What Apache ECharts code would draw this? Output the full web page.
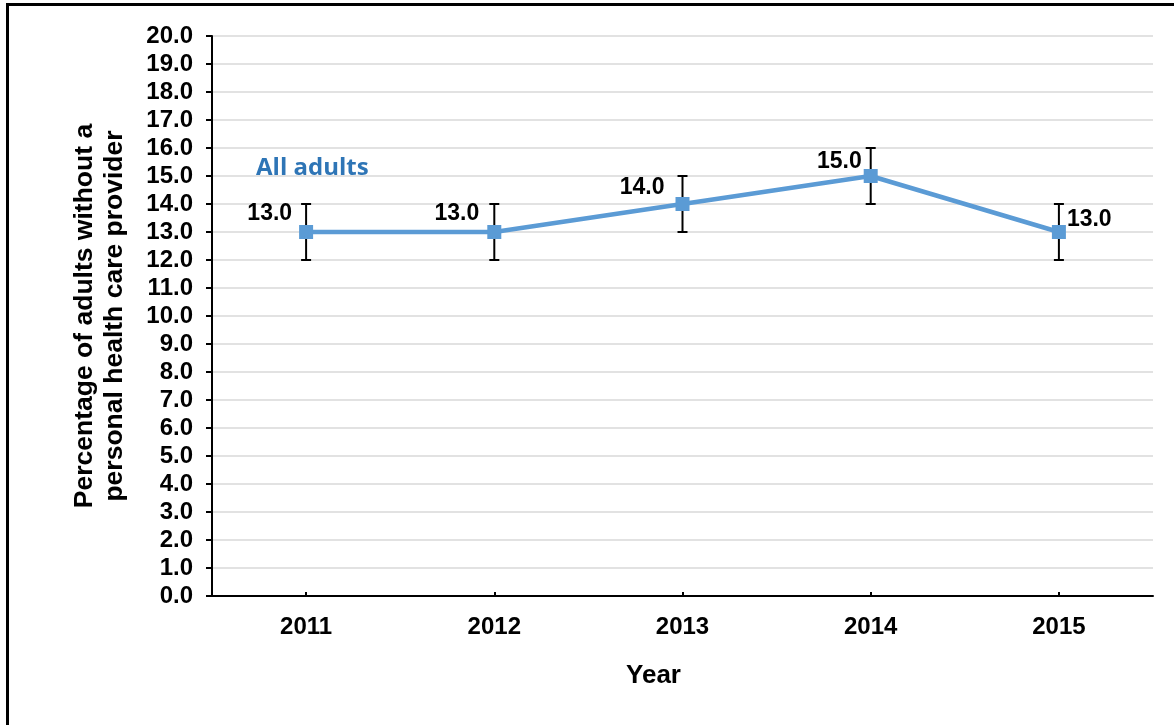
<!DOCTYPE html>
<html>
<head>
<meta charset="utf-8">
<script src="https://cdn.jsdelivr.net/npm/echarts@6/dist/echarts.min.js"></script>
<style>
html,body{margin:0;padding:0;background:#fff;}
#chart{width:1174px;height:725px;}
</style>
</head>
<body>
<div id="chart"></div>
<script>
const years = ['2011', '2012', '2013', '2014', '2015'];
const allAdults = [13.0, 13.0, 14.0, 15.0, 13.0];
const errLow = [12.0, 12.0, 13.0, 14.0, 12.0];
const errHigh = [14.0, 14.0, 15.0, 16.0, 14.0];
const seriesName = 'All adults';
const yAxisTitle = 'Percentage of adults without a\npersonal health care provider';
const xAxisTitle = 'Year';

// label placement (style only)
const labelPlace = [
  {pos: 'left', dist: 7, off: [0, -18]},
  {pos: 'left', dist: 8, off: [0, -18]},
  {pos: 'left', dist: 11, off: [0, -16]},
  {pos: 'left', dist: 2, off: [0, -14]},
  {pos: 'right', dist: 1, off: [0, -12]}
];

const FONT = '"Liberation Sans", Arial, sans-serif';
const chart = echarts.init(document.getElementById('chart'), null, {renderer: 'canvas'});

const lineData = allAdults.map((v, i) => ({
  value: v,
  label: {
    show: true,
    position: labelPlace[i].pos,
    distance: labelPlace[i].dist,
    offset: labelPlace[i].off,
    formatter: p => Number(p.value).toFixed(1),
    color: '#000', fontWeight: 'bold', fontSize: 23, fontFamily: FONT
  }
}));

const errData = years.map((y, i) => [i, errLow[i], errHigh[i]]);

chart.setOption({
  animation: false,
  backgroundColor: '#fff',
  title: {
    text: seriesName, left: 251, top: 151,
    textStyle: {color: '#2e75b6', fontSize: 24, fontWeight: 'bold', fontFamily: '"Open Sans", "Noto Sans", sans-serif'}
  },
  graphic: [
    {type: 'line', shape: {x1: 6, y1: 4.5, x2: 1174, y2: 4.5}, style: {stroke: '#000', lineWidth: 3}, z: 100},
    {type: 'line', shape: {x1: 7.5, y1: 3, x2: 7.5, y2: 725}, style: {stroke: '#000', lineWidth: 3}, z: 100}
  ],
  grid: {left: 212, right: 21, top: 36, bottom: 129, containLabel: false},
  xAxis: {
    type: 'category', data: years, boundaryGap: true,
    name: xAxisTitle, nameLocation: 'middle', nameGap: 67,
    nameTextStyle: {color: '#000', fontWeight: 'bold', fontSize: 26, fontFamily: FONT, padding: [0, 58, 0, 0]},
    axisLine: {show: true, lineStyle: {color: '#000', width: 2}},
    axisTick: {show: true, alignWithLabel: true, inside: true, length: 4, lineStyle: {color: '#000', width: 2}},
    axisLabel: {color: '#000', fontWeight: 'bold', fontSize: 24, fontFamily: FONT, margin: 19},
    splitLine: {show: false}
  },
  yAxis: {
    type: 'value', min: 0, max: 20, interval: 1,
    name: yAxisTitle, nameLocation: 'middle', nameGap: 82, nameRotate: 90,
    nameTextStyle: {color: '#000', fontWeight: 'bold', fontSize: 26.5, lineHeight: 30, fontFamily: FONT},
    axisLine: {show: true, lineStyle: {color: '#000', width: 2}},
    axisTick: {show: true, inside: false, length: 6, lineStyle: {color: '#000', width: 2}},
    axisLabel: {color: '#000', fontWeight: 'bold', fontSize: 24, fontFamily: FONT, margin: 19,
      formatter: v => v.toFixed(1)},
    splitLine: {show: true, lineStyle: {color: '#d9d9d9', width: 1.5}}
  },
  series: [
    {
      name: seriesName + ' error', type: 'custom', data: errData, z: 3,
      renderItem: function (params, api) {
        const x = api.value(0);
        const lo = api.coord([x, api.value(1)]);
        const hi = api.coord([x, api.value(2)]);
        const cap = 5;
        const st = {stroke: '#000', lineWidth: 2};
        return {type: 'group', children: [
          {type: 'line', shape: {x1: lo[0], y1: lo[1], x2: hi[0], y2: hi[1]}, style: st},
          {type: 'line', shape: {x1: lo[0] - cap, y1: lo[1], x2: lo[0] + cap, y2: lo[1]}, style: st},
          {type: 'line', shape: {x1: hi[0] - cap, y1: hi[1], x2: hi[0] + cap, y2: hi[1]}, style: st}
        ]};
      }
    },
    {
      name: seriesName, type: 'line', data: lineData, z: 5,
      symbol: 'rect', symbolSize: 14,
      lineStyle: {color: '#5b9bd5', width: 4.5},
      itemStyle: {color: '#5b9bd5'}
    }
  ]
});
</script>
</body>
</html>
